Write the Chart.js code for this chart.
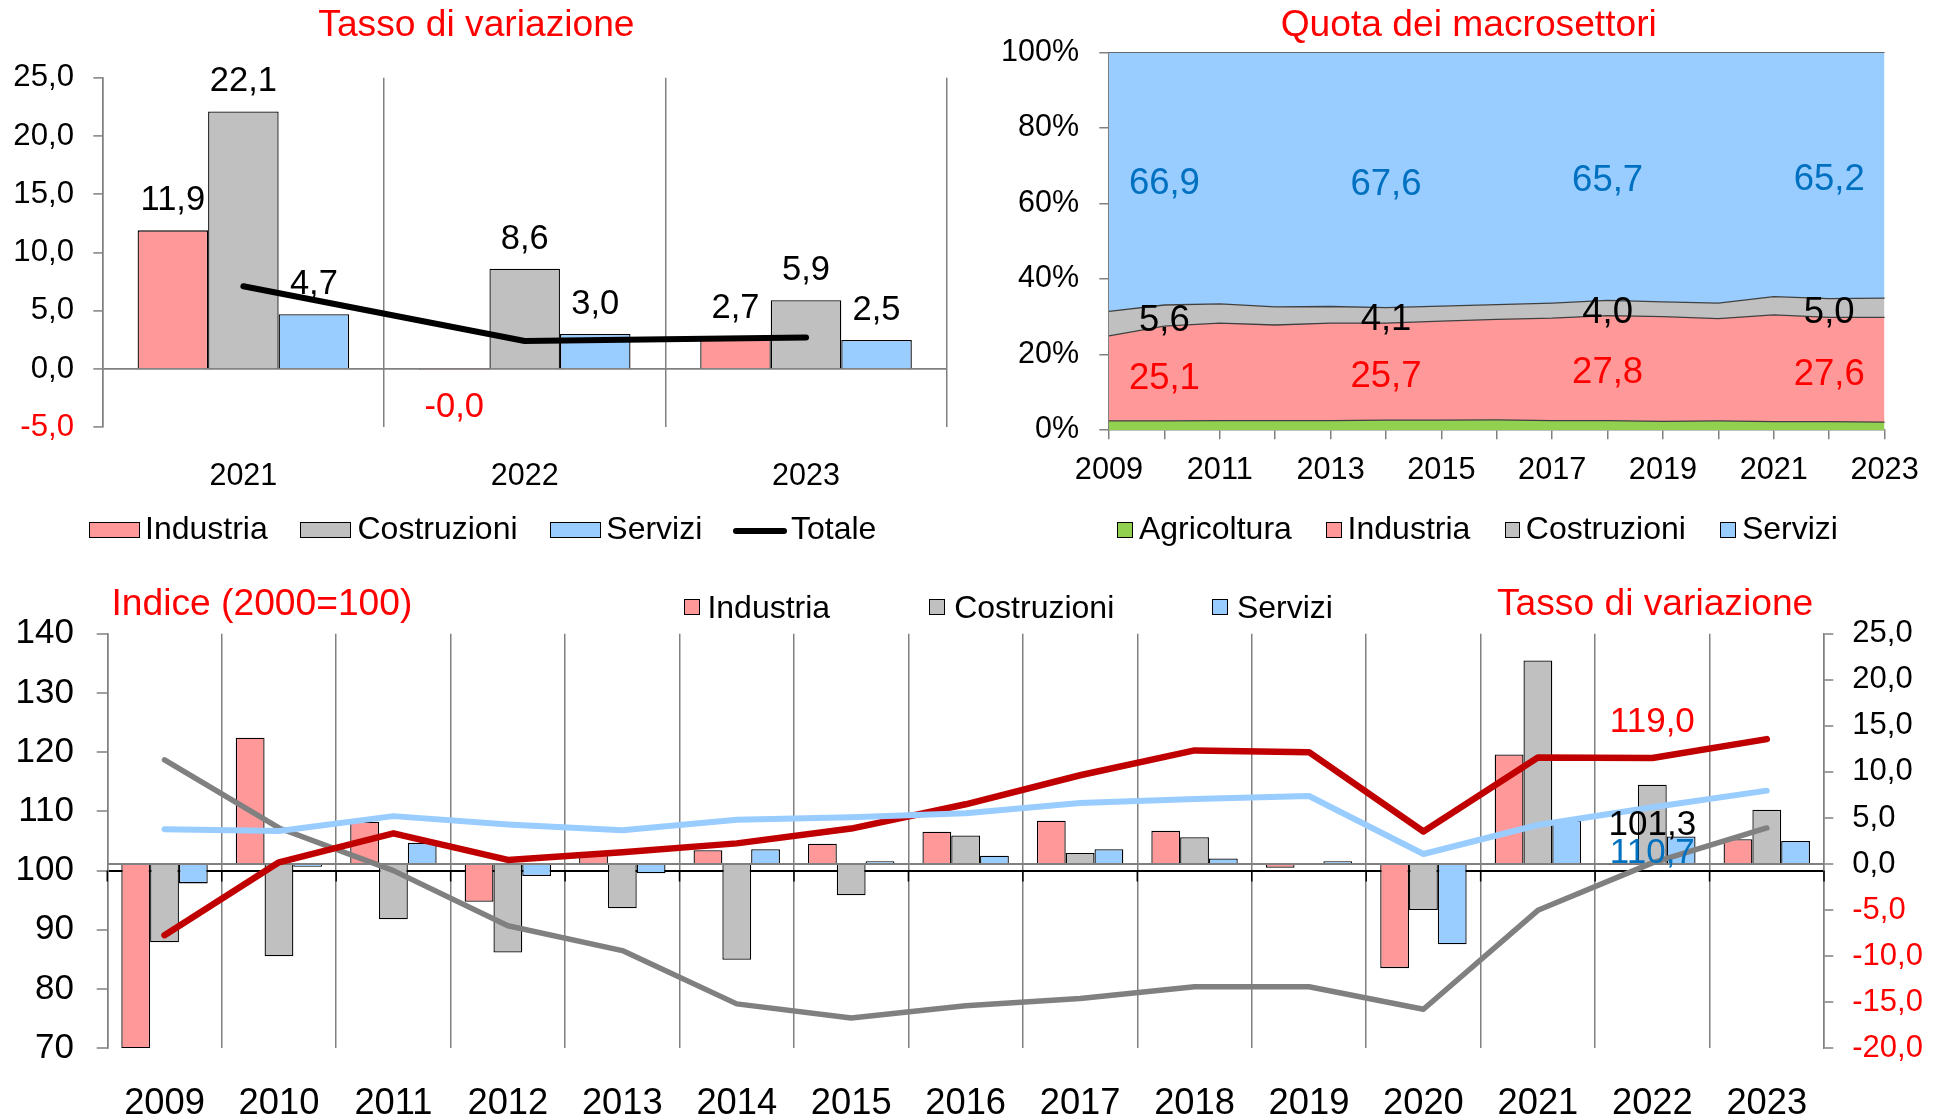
<!DOCTYPE html>
<html>
<head>
<meta charset="utf-8">
<script src="https://cdn.jsdelivr.net/npm/chart.js@4.4.1/dist/chart.umd.min.js"></script>
<style>
  html, body { margin:0; padding:0; background:#fff; }
  body { width:1939px; height:1120px; position:relative; overflow:hidden; font-family:'Liberation Sans', Arial, sans-serif; }
  canvas { position:absolute; }
  .t { position:absolute; white-space:nowrap; }
  .b { position:absolute; box-sizing:border-box; border:1.4px solid #000; }
</style>
</head>
<body>
<canvas id="cA" width="965" height="560" style="left:0;top:0;width:965px;height:560px"></canvas>
<canvas id="cB" width="974" height="560" style="left:965px;top:0;width:974px;height:560px"></canvas>
<canvas id="cC" width="1939" height="560" style="left:0;top:560px;width:1939px;height:560px"></canvas>
<script>
// ---------------- DATA ----------------
// Top-left: Tasso di variazione
const topYears = ['2021', '2022', '2023'];
const topIndustria = [11.9, -0.04, 2.7];
const topCostruzioni = [22.1, 8.6, 5.9];
const topServizi = [4.7, 3.0, 2.5];
const topTotale = [7.1, 2.4, 2.7];

// Top-right: Quota dei macrosettori (%)
const shareYears = ['2009','2010','2011','2012','2013','2014','2015','2016','2017','2018','2019','2020','2021','2022','2023'];
const shareAgricoltura = [2.4, 2.4, 2.5, 2.5, 2.5, 2.6, 2.6, 2.7, 2.5, 2.5, 2.3, 2.4, 2.2, 2.2, 2.1];
const shareIndustria   = [22.5, 25.1, 25.8, 25.3, 25.8, 25.7, 26.2, 26.6, 27.1, 27.8, 27.7, 27.1, 28.3, 27.6, 27.7];
const shareCostruzioni = [6.5, 5.6, 5.1, 4.8, 4.4, 4.1, 4.0, 3.9, 4.0, 4.0, 3.9, 4.1, 4.8, 5.0, 5.1];
const shareServizi     = [68.6, 66.9, 66.6, 67.4, 67.3, 67.6, 67.2, 66.8, 66.4, 65.7, 66.1, 66.4, 64.7, 65.2, 65.1];
const shareLabelIdx = [1, 5, 9, 13];

// Bottom: Indice (2000=100) and Tasso di variazione
const years = ['2009','2010','2011','2012','2013','2014','2015','2016','2017','2018','2019','2020','2021','2022','2023'];
const rateIndustria   = [-20.0, 13.7, 4.6, -4.1, 1.3, 1.5, 2.2, 3.5, 4.7, 3.6, -0.4, -11.3, 11.9, -0.04, 2.7];
const rateCostruzioni = [-8.5, -10.0, -6.0, -9.6, -4.8, -10.4, -3.4, 3.1, 1.2, 2.9, 0.1, -5.0, 22.1, 8.6, 5.9];
const rateServizi     = [-2.1, -0.3, 2.3, -1.3, -1.0, 1.6, 0.3, 0.9, 1.6, 0.6, 0.3, -8.7, 4.7, 3.0, 2.5];
const indexIndustria   = [89.1, 101.4, 106.3, 101.8, 103.1, 104.6, 107.1, 111.2, 116.1, 120.3, 120.0, 106.6, 119.1, 119.0, 122.2];
const indexCostruzioni = [118.7, 107.2, 100.0, 90.7, 86.5, 77.5, 75.1, 77.2, 78.4, 80.4, 80.4, 76.6, 93.3, 101.3, 107.2];
const indexServizi     = [107.0, 106.7, 109.2, 107.8, 106.8, 108.6, 109.0, 109.7, 111.4, 112.1, 112.6, 102.8, 107.7, 110.7, 113.5];
const indexLabelIdx = 13;

// ---------------- STYLE ----------------
const FONT = "'Liberation Sans', Arial, sans-serif";
const C_IND = '#FF9999', C_COS = '#C0C0C0', C_SER = '#99CCFF', C_AGR = '#92D050';
const RED = '#FF0000', BLUE_TXT = '#0070C0', GRID = '#808080';
Chart.defaults.font.family = FONT;
Chart.defaults.color = '#000';
const fmt = v => v.toFixed(1).replace('.', ',');

// ---------------- HTML TEXT HELPERS ----------------
function addText(str, left, baseline, size, color) {
  const el = document.createElement('div');
  el.className = 't';
  el.textContent = str;
  el.style.fontSize = size + 'px';
  el.style.lineHeight = size + 'px';
  el.style.color = color;
  el.style.left = left + 'px';
  el.style.top = (baseline - 0.8465 * size) + 'px';
  document.body.appendChild(el);
}
function addBox(left, top, w, h, color) {
  const el = document.createElement('div');
  el.className = 'b';
  el.style.left = left + 'px'; el.style.top = top + 'px';
  el.style.width = w + 'px'; el.style.height = h + 'px';
  el.style.background = color;
  document.body.appendChild(el);
}
function addLine(left, top, w, h, color) {
  const el = document.createElement('div');
  el.style.cssText = `position:absolute;left:${left}px;top:${top}px;width:${w}px;height:${h}px;background:${color};border-radius:${h/2}px`;
  document.body.appendChild(el);
}

// Titles
addText('Tasso di variazione', 318.3, 36.8, 37.2, RED);
addText('Quota dei macrosettori', 1280.7, 36.8, 37.2, RED);
addText('Indice (2000=100)', 111.5, 615.5, 37.2, RED);
addText('Tasso di variazione', 1497, 615.5, 37.2, RED);

// Legend top-left
addBox(89, 522.3, 51, 16.2, C_IND);   addText('Industria', 145, 539.5, 32, '#000');
addBox(300.3, 522.3, 51, 16.2, C_COS); addText('Costruzioni', 357.5, 539.5, 32, '#000');
addBox(549.7, 522.3, 51, 16.2, C_SER); addText('Servizi', 606.3, 539.5, 32, '#000');
addLine(732.5, 527.5, 54, 6, '#000');  addText('Totale', 791, 539.5, 32, '#000');
// Legend top-right
addBox(1117.2, 522.3, 15.8, 16.2, C_AGR); addText('Agricoltura', 1138.9, 539.5, 32, '#000');
addBox(1325.9, 522.3, 15.8, 16.2, C_IND); addText('Industria', 1347.6, 539.5, 32, '#000');
addBox(1504.7, 522.3, 15.8, 16.2, C_COS); addText('Costruzioni', 1525.8, 539.5, 32, '#000');
addBox(1720.2, 522.3, 15.8, 16.2, C_SER); addText('Servizi', 1741.9, 539.5, 32, '#000');
// Legend bottom
addBox(683.7, 599.2, 16, 16, C_IND);  addText('Industria', 707.4, 618.2, 32, '#000');
addBox(929.1, 599.2, 16, 16, C_COS);  addText('Costruzioni', 954.2, 618.2, 32, '#000');
addBox(1212.2, 599.2, 16, 16, C_SER); addText('Servizi', 1236.9, 618.2, 32, '#000');

// ---------------- CHART A ----------------
const barLabelsA = {
  id: 'barLabelsA',
  afterDatasetDraw(chart, args) {
    const ds = chart.data.datasets[args.index];
    if (ds.type === 'line') return;
    const ctx = chart.ctx, y = chart.scales.y;
    ctx.save();
    ctx.font = `34.5px ${FONT}`;
    ctx.textAlign = 'center';
    ctx.textBaseline = 'alphabetic';
    args.meta.data.forEach((el, i) => {
      const v = ds.data[i];
      if (v < 0) { ctx.fillStyle = RED; ctx.fillText(fmt(v), el.x, y.getPixelForValue(0) + 48); }
      else { ctx.fillStyle = '#000'; ctx.fillText(fmt(v), el.x, el.y - 20); }
    });
    ctx.restore();
  }
};
const barDs = (label, data, color, axis) => ({
  label, data, backgroundColor: color, borderColor: '#000', borderWidth: 1.3,
  categoryPercentage: 0.752, barPercentage: 1, order: 2, yAxisID: axis
});
new Chart(document.getElementById('cA'), {
  type: 'bar',
  data: {
    labels: topYears,
    datasets: [
      barDs('Industria', topIndustria, C_IND, 'y'),
      barDs('Costruzioni', topCostruzioni, C_COS, 'y'),
      barDs('Servizi', topServizi, C_SER, 'y'),
      { label: 'Totale', type: 'line', data: topTotale, borderColor: '#000', borderWidth: 6,
        pointRadius: 0, borderCapStyle: 'round', borderJoinStyle: 'round', order: 0, yAxisID: 'y' }
    ]
  },
  options: {
    responsive: false, animation: false, devicePixelRatio: 1,
    layout: { padding: { top: 77.7, right: 18.3, left: 0, bottom: 0 } },
    plugins: { legend: { display: false }, tooltip: { enabled: false } },
    scales: {
      x: {
        grid: { offset: true, color: GRID, lineWidth: 1.5, drawTicks: false },
        border: { display: false },
        ticks: { font: { size: 30.5 }, color: '#000', padding: 30.5 },
        afterFit: s => { s.height = 132.7; }
      },
      y: {
        min: -5, max: 25,
        ticks: { stepSize: 5, callback: v => fmt(v), color: c => c.tick.value < 0 ? RED : '#000',
                 font: { size: 31.2 }, padding: 19.3 },
        grid: { color: c => (c.tick && c.tick.value === 0) ? GRID : 'rgba(0,0,0,0)', lineWidth: 1.8,
                tickColor: GRID, tickWidth: 1.5, tickLength: 9.4 },
        border: { color: GRID, width: 1.5 },
        afterFit: s => { s.width = 102.7; }
      }
    }
  },
  plugins: [barLabelsA]
});

// ---------------- CHART B ----------------
const areaLabelsB = {
  id: 'areaLabelsB',
  afterDatasetsDraw(chart) {
    const ctx = chart.ctx, x = chart.scales.x, y = chart.scales.y;
    const colors = [null, RED, '#000', BLUE_TXT];
    const size = 36.5;
    ctx.save();
    ctx.font = `${size}px ${FONT}`;
    ctx.textAlign = 'center';
    ctx.textBaseline = 'alphabetic';
    shareLabelIdx.forEach(i => {
      let cum = chart.data.datasets[0].data[i];
      for (let d = 1; d < chart.data.datasets.length; d++) {
        const v = chart.data.datasets[d].data[i];
        ctx.fillStyle = colors[d];
        ctx.fillText(fmt(v), x.getPixelForValue(i), y.getPixelForValue(cum + v / 2) + 0.358 * size + 2);
        cum += v;
      }
    });
    ctx.restore();
  }
};
const areaDs = (label, data, color, fill) => ({
  label, data, backgroundColor: color, borderColor: '#404040', borderWidth: 1.3,
  fill, pointRadius: 0, tension: 0
});
new Chart(document.getElementById('cB'), {
  type: 'line',
  data: {
    labels: shareYears,
    datasets: [
      areaDs('Agricoltura', shareAgricoltura, C_AGR, 'origin'),
      areaDs('Industria', shareIndustria, C_IND, '-1'),
      areaDs('Costruzioni', shareCostruzioni, C_COS, '-1'),
      areaDs('Servizi', shareServizi, C_SER, '-1')
    ]
  },
  options: {
    responsive: false, animation: false, devicePixelRatio: 1,
    layout: { padding: { top: 52.3, right: 54.4, left: 0, bottom: 0 } },
    plugins: { legend: { display: false }, tooltip: { enabled: false } },
    scales: {
      x: {
        offset: false,
        grid: { offset: false, drawOnChartArea: false, color: GRID, lineWidth: 1.5, tickLength: 9.3 },
        border: { color: GRID, width: 1.5 },
        ticks: { autoSkip: false, maxRotation: 0, minRotation: 0,
                 callback: (v, i) => (i % 2 === 0 ? shareYears[i] : ''),
                 font: { size: 30.7 }, color: '#000', padding: 12.5 },
        afterFit: s => { s.height = 130; }
      },
      y: {
        stacked: true, min: 0, max: 100,
        ticks: { stepSize: 20, callback: v => v + '%', font: { size: 30.5 }, color: '#000', padding: 20.3 },
        grid: { drawOnChartArea: false, color: GRID, lineWidth: 1.5, tickLength: 9.7 },
        border: { color: GRID, width: 1.5 },
        afterFit: s => { s.width = 144; }
      }
    }
  },
  plugins: [areaLabelsB]
});

// ---------------- CHART C ----------------
const extrasC = {
  id: 'extrasC',
  beforeDatasetsDraw(chart) {
    const ctx = chart.ctx, x = chart.scales.x, y = chart.scales.y;
    const y100 = y.getPixelForValue(100);
    const n = chart.data.labels.length;
    const step = x.getPixelForValue(1) - x.getPixelForValue(0);
    ctx.save();
    ctx.strokeStyle = '#000';
    ctx.lineWidth = 1.5;
    ctx.beginPath();
    for (let k = 0; k <= n; k++) {
      const xx = k < n ? x.getPixelForValue(k) - step / 2 : x.getPixelForValue(n - 1) + step / 2;
      ctx.moveTo(xx, y100);
      ctx.lineTo(xx, y100 + 11);
    }
    ctx.stroke();
    ctx.restore();
  },
  afterDatasetsDraw(chart) {
    const ctx = chart.ctx;
    const i = indexLabelIdx;
    const specs = [
      { ds: 3, color: RED, dy: -26 },
      { ds: 4, color: '#000', dy: -28 },
      { ds: 5, color: BLUE_TXT, dy: 55.7 }
    ];
    ctx.save();
    ctx.font = `35px ${FONT}`;
    ctx.textAlign = 'center';
    ctx.textBaseline = 'alphabetic';
    specs.forEach(s => {
      const el = chart.getDatasetMeta(s.ds).data[i];
      ctx.fillStyle = s.color;
      ctx.fillText(fmt(chart.data.datasets[s.ds].data[i]), el.x, el.y + s.dy);
    });
    ctx.restore();
  }
};
const lineDs = (label, data, color, width, order) => ({
  label, type: 'line', data, borderColor: color, borderWidth: width, pointRadius: 0,
  borderCapStyle: 'round', borderJoinStyle: 'round', yAxisID: 'y', order
});
const barDsC = (label, data, color) => ({
  label, data, backgroundColor: color, borderColor: '#000', borderWidth: 1.3,
  categoryPercentage: 0.755, barPercentage: 1, order: 5, yAxisID: 'y1'
});
new Chart(document.getElementById('cC'), {
  type: 'bar',
  data: {
    labels: years,
    datasets: [
      barDsC('Industria', rateIndustria, C_IND),
      barDsC('Costruzioni', rateCostruzioni, C_COS),
      barDsC('Servizi', rateServizi, C_SER),
      lineDs('Industria (indice)', indexIndustria, '#C00000', 6.5, 2),
      lineDs('Costruzioni (indice)', indexCostruzioni, '#808080', 5.5, 3),
      lineDs('Servizi (indice)', indexServizi, '#99CCFF', 6, 1)
    ]
  },
  options: {
    responsive: false, animation: false, devicePixelRatio: 1,
    layout: { padding: { top: 73.7, right: 0, left: 0, bottom: 0 } },
    plugins: { legend: { display: false }, tooltip: { enabled: false } },
    scales: {
      x: {
        grid: { offset: true, color: GRID, lineWidth: 1.5, drawTicks: false },
        border: { display: false },
        ticks: { font: { size: 36.3 }, color: '#000', padding: 34.4 },
        afterFit: s => { s.height = 71.7; }
      },
      y: {
        position: 'left', min: 70, max: 140,
        ticks: { stepSize: 10, font: { size: 35 }, color: '#000', padding: 22.7 },
        grid: { color: c => (c.tick && c.tick.value === 100) ? '#000' : 'rgba(0,0,0,0)', lineWidth: 2,
                tickColor: GRID, tickWidth: 1.5, tickLength: 10.6 },
        border: { color: GRID, width: 1.5 },
        afterFit: s => { s.width = 107.3; }
      },
      y1: {
        position: 'right', min: -20, max: 25,
        ticks: { stepSize: 5, callback: v => fmt(v), color: c => c.tick.value < 0 ? RED : '#000',
                 font: { size: 31 }, padding: 19 },
        grid: { color: c => (c.tick && c.tick.value === 0) ? GRID : 'rgba(0,0,0,0)', lineWidth: 2,
                tickColor: GRID, tickWidth: 1.5, tickLength: 9.3 },
        border: { color: GRID, width: 1.5 },
        afterFit: s => { s.width = 115; }
      }
    }
  },
  plugins: [extrasC]
});
</script>
</body>
</html>
